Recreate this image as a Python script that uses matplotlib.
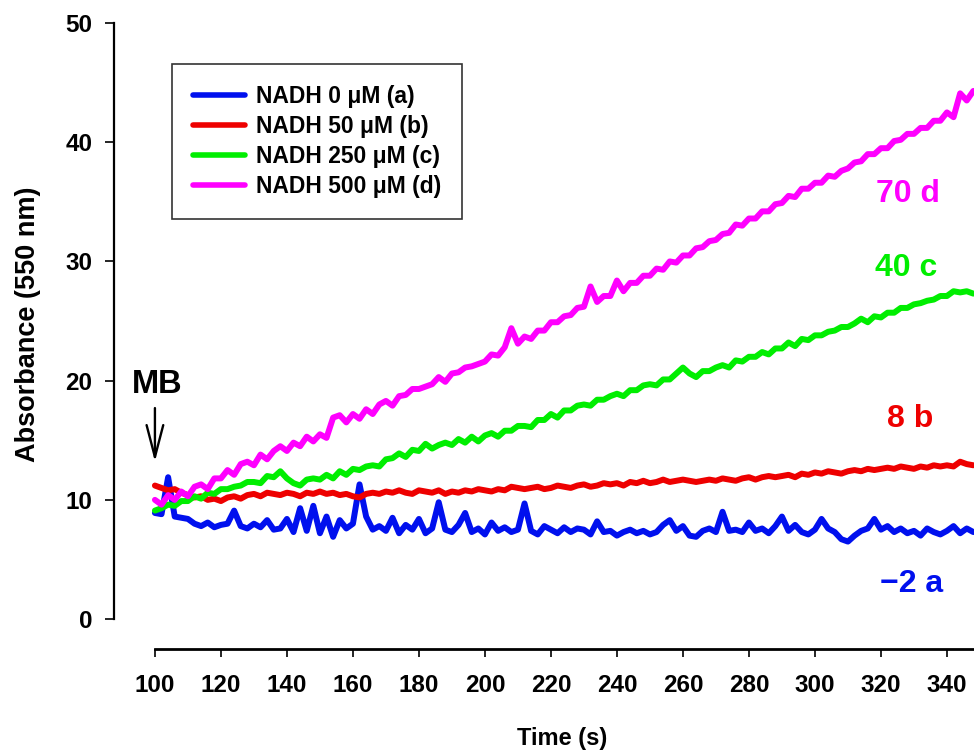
import numpy as np
import matplotlib
matplotlib.use("Agg")
import matplotlib.pyplot as plt

plt.rcParams['font.family'] = ['Liberation Sans', 'DejaVu Sans']
plt.rcParams['font.weight'] = 'bold'

# ---------------- data ----------------
time_s = np.arange(100, 349, 2)

nadh_0 = [8.9, 8.8, 11.9, 8.6, 8.5, 8.4, 8.0, 7.8, 8.1, 7.7,
          7.9, 8.0, 9.1, 7.8, 7.6, 8.0, 7.7, 8.3, 7.5, 7.6,
          8.4, 7.3, 9.3, 7.4, 9.5, 7.2, 8.6, 6.9, 8.3, 7.6,
          8.0, 11.3, 8.6, 7.5, 7.8, 7.4, 8.5, 7.2, 7.9, 7.5,
          8.4, 7.2, 7.6, 9.8, 7.5, 7.3, 7.9, 8.9, 7.3, 7.6,
          7.1, 8.1, 7.4, 7.7, 7.3, 7.5, 9.7, 7.4, 7.1, 7.8,
          7.5, 7.2, 7.7, 7.3, 7.6, 7.5, 7.1, 8.2, 7.3, 7.4,
          7.0, 7.3, 7.5, 7.2, 7.4, 7.1, 7.3, 7.9, 8.3, 7.4,
          7.8, 7.0, 6.9, 7.4, 7.6, 7.3, 9.0, 7.4, 7.5, 7.3,
          8.1, 7.4, 7.6, 7.2, 7.8, 8.6, 7.4, 7.9, 7.3, 7.1,
          7.5, 8.4, 7.6, 7.3, 6.7, 6.5, 7.0, 7.4, 7.6, 8.4,
          7.5, 7.8, 7.3, 7.6, 7.2, 7.4, 7.0, 7.6, 7.3, 7.1,
          7.4, 7.8, 7.2, 7.6, 7.3]

nadh_50 = [11.2, 11.0, 10.8, 10.9, 10.6, 10.4, 10.2, 10.3, 10.0, 10.1,
           9.9, 10.2, 10.3, 10.1, 10.4, 10.5, 10.3, 10.6, 10.5, 10.4,
           10.6, 10.5, 10.3, 10.6, 10.5, 10.7, 10.5, 10.6, 10.4, 10.5,
           10.3, 10.2, 10.5, 10.6, 10.5, 10.7, 10.6, 10.8, 10.6, 10.5,
           10.8, 10.7, 10.6, 10.8, 10.5, 10.7, 10.6, 10.8, 10.7, 10.9,
           10.8, 10.7, 10.9, 10.8, 11.1, 11.0, 10.9, 11.0, 11.1, 10.9,
           11.0, 11.2, 11.1, 11.0, 11.2, 11.3, 11.1, 11.2, 11.4, 11.3,
           11.4, 11.2, 11.5, 11.4, 11.6, 11.4, 11.5, 11.7, 11.5, 11.6,
           11.7, 11.6, 11.5, 11.6, 11.7, 11.6, 11.8, 11.7, 11.6, 11.8,
           11.9, 11.7, 11.9, 12.0, 11.9, 12.0, 12.1, 11.9, 12.2, 12.1,
           12.3, 12.2, 12.4, 12.3, 12.2, 12.4, 12.5, 12.4, 12.6, 12.5,
           12.6, 12.7, 12.6, 12.8, 12.7, 12.6, 12.8, 12.7, 12.9, 12.8,
           12.9, 12.8, 13.2, 13.0, 12.9]

nadh_250 = [9.1, 9.3, 9.6, 9.5, 9.9, 9.9, 10.3, 10.1, 10.6, 10.5,
            10.9, 10.9, 11.1, 11.2, 11.5, 11.5, 11.4, 12.0, 11.9, 12.4,
            11.8, 11.4, 11.2, 11.7, 11.8, 11.7, 12.1, 11.8, 12.4, 12.1,
            12.6, 12.5, 12.8, 12.9, 12.8, 13.4, 13.5, 13.9, 13.6, 14.2,
            14.1, 14.7, 14.3, 14.6, 14.8, 14.6, 15.1, 14.8, 15.3, 14.9,
            15.4, 15.6, 15.3, 15.8, 15.8, 16.2, 16.2, 16.1, 16.7, 16.7,
            17.2, 16.9, 17.5, 17.5, 17.9, 18.0, 17.9, 18.4, 18.4, 18.7,
            18.9, 18.7, 19.2, 19.2, 19.6, 19.7, 19.6, 20.1, 20.1, 20.6,
            21.1, 20.6, 20.3, 20.8, 20.8, 21.1, 21.3, 21.1, 21.7, 21.6,
            22.0, 22.0, 22.4, 22.2, 22.7, 22.7, 23.2, 22.9, 23.5, 23.4,
            23.8, 23.8, 24.1, 24.2, 24.5, 24.5, 24.8, 25.2, 24.9, 25.4,
            25.3, 25.7, 25.7, 26.1, 26.1, 26.4, 26.5, 26.7, 26.8, 27.1,
            27.1, 27.5, 27.4, 27.5, 27.3]

nadh_500 = [10.0, 9.6, 10.4, 10.0, 10.7, 10.3, 11.1, 11.3, 10.9, 11.8,
            11.8, 12.5, 12.1, 13.0, 13.2, 12.9, 13.8, 13.4, 14.1, 14.5,
            14.1, 14.8, 14.5, 15.3, 14.9, 15.5, 15.2, 16.9, 17.1, 16.5,
            17.2, 16.8, 17.6, 17.2, 18.0, 18.3, 17.9, 18.7, 18.8, 19.3,
            19.3, 19.5, 19.7, 20.3, 19.9, 20.6, 20.7, 21.1, 21.2, 21.4,
            21.6, 22.2, 22.1, 22.8, 24.4, 23.1, 23.7, 23.5, 24.2, 24.2,
            24.9, 24.9, 25.4, 25.5, 26.1, 26.2, 27.9, 26.6, 27.1, 27.1,
            28.4, 27.5, 28.2, 28.2, 28.8, 28.8, 29.4, 29.3, 30.0, 29.9,
            30.5, 30.5, 31.1, 31.2, 31.7, 31.8, 32.3, 32.4, 33.1, 33.0,
            33.6, 33.6, 34.2, 34.2, 34.8, 34.9, 35.5, 35.4, 36.1, 36.1,
            36.6, 36.6, 37.2, 37.1, 37.6, 37.8, 38.3, 38.4, 39.0, 39.0,
            39.5, 39.5, 40.1, 40.2, 40.7, 40.7, 41.2, 41.2, 41.8, 41.8,
            42.5, 42.1, 44.1, 43.5, 44.3]

series_labels = ["NADH 0 \u03bcM (a)", "NADH 50 \u03bcM (b)",
                 "NADH 250 \u03bcM (c)", "NADH 500 \u03bcM (d)"]
series_colors = ["#0010ee", "#ee0000", "#00ee00", "#ff00ff"]
end_labels = ["\u22122 a", "8 b", "40 c", "70 d"]

xticks = list(range(100, 341, 20))
yticks = [0, 10, 20, 30, 40, 50]

# ---------------- figure ----------------
W, H = 974, 751
fig = plt.figure(figsize=(W / 100, H / 100), dpi=100)

ax_left, ax_right = 114, 974
ax_top, ax_bottom = 23, 649
ax = fig.add_axes([ax_left / W, 1 - ax_bottom / H,
                   (ax_right - ax_left) / W, (ax_bottom - ax_top) / H])

for vals, lab, col in zip([nadh_0, nadh_50, nadh_250, nadh_500], series_labels, series_colors):
    ax.plot(time_s, vals, color=col, lw=4.3, label=lab,
            solid_joinstyle='round', solid_capstyle='round')

ax.set_xlim(87.6, 348.2)
ax.set_ylim(-2.51, 50)

ax.spines['top'].set_visible(False)
ax.spines['right'].set_visible(False)
ax.spines['left'].set_bounds(0, 50)
ax.spines['bottom'].set_bounds(100, 348.2)
ax.spines['left'].set_linewidth(1.6)
ax.spines['bottom'].set_linewidth(2.0)

ax.set_xticks(xticks)
ax.set_yticks(yticks)
ax.tick_params(axis='y', direction='out', length=6.5, width=1.2, pad=9, labelsize=17.5)
ax.tick_params(axis='x', direction='out', length=6, width=1.2, pad=12, labelsize=17.5)
for t in ax.get_xticklabels() + ax.get_yticklabels():
    t.set_fontweight('bold')

ax.set_xlabel("Time (s)", fontsize=17, fontweight='bold')
ax.set_ylabel("Absorbance (550 nm)", fontsize=19.5, fontweight='bold')
ax.xaxis.label.set_va('center')
ax.yaxis.label.set_va('center')
ax.xaxis.set_label_coords((562 - ax_left) / (ax_right - ax_left), (ax_bottom - 739) / (ax_bottom - ax_top))
ax.yaxis.set_label_coords((28 - ax_left) / (ax_right - ax_left), (ax_bottom - 324) / (ax_bottom - ax_top))

# end labels
end_pos = [(329.4, 2.26), (328.9, 16.1), (327.7, 28.8), (328.2, 34.95)]
for (tx, ty), lab, col in zip(end_pos, end_labels, series_colors):
    ax.text(tx, ty, lab, color=col, fontsize=23, fontweight='bold',
            ha='center', va='baseline')

# MB marker
ax.text(100.6, 18.94, "MB", fontsize=23.5, fontweight='bold', ha='center', va='baseline')
ax.annotate("", xy=(100.0, 13.2), xytext=(100.0, 17.7),
            arrowprops=dict(arrowstyle='->,head_length=2.3,head_width=0.6',
                            lw=1.7, color='black', shrinkA=0, shrinkB=0))

leg = ax.legend(loc='upper left', bbox_to_anchor=(172 / W, 1 - 64 / H),
                bbox_transform=fig.transFigure, borderaxespad=0,
                prop={'weight': 'bold', 'size': 16.5},
                frameon=True, fancybox=False, edgecolor='black',
                handlelength=2.3, handletextpad=0.45, labelspacing=0.31,
                borderpad=0.9)
leg.get_frame().set_linewidth(1.2)
for line in leg.get_lines():
    line.set_linewidth(4.0)

fig.savefig("out.png", dpi=100)
